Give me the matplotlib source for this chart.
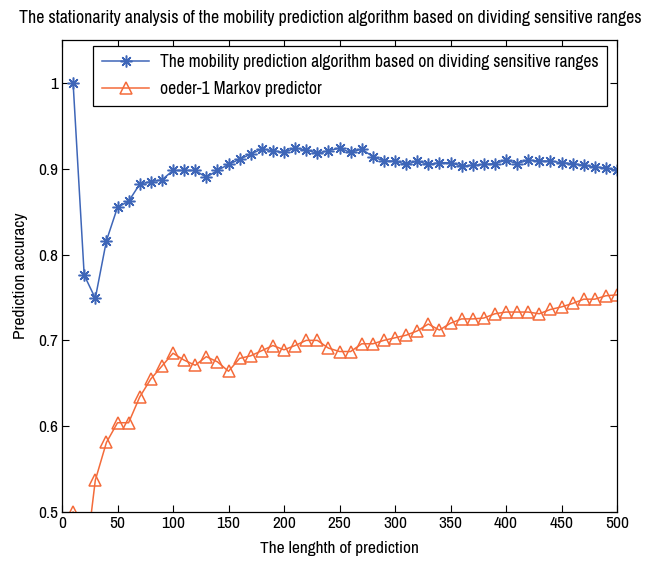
import matplotlib
matplotlib.use("Agg")
import matplotlib.pyplot as plt
from matplotlib import font_manager

narrow = None
for f in font_manager.fontManager.ttflist:
    if 'Narrow' in f.name or 'Condensed' in f.name:
        narrow = f.name
        break
if narrow:
    plt.rcParams['font.family'] = [narrow, 'DejaVu Sans']
else:
    plt.rcParams['font.family'] = ['DejaVu Sans']

x = list(range(10, 501, 10))

sensitive = [1.000, 0.776, 0.749, 0.816, 0.855, 0.862, 0.882, 0.885, 0.887, 0.898,
             0.898, 0.898, 0.890, 0.898, 0.905, 0.911, 0.917, 0.923, 0.921, 0.919,
             0.924, 0.922, 0.918, 0.921, 0.924, 0.919, 0.923, 0.914, 0.909, 0.909,
             0.905, 0.909, 0.905, 0.907, 0.907, 0.903, 0.904, 0.905, 0.906, 0.910,
             0.906, 0.910, 0.909, 0.909, 0.907, 0.906, 0.904, 0.902, 0.901, 0.898]

markov = [0.500, 0.430, 0.537, 0.581, 0.604, 0.604, 0.634, 0.655, 0.670, 0.685,
          0.677, 0.671, 0.681, 0.675, 0.664, 0.679, 0.682, 0.688, 0.694, 0.689,
          0.694, 0.700, 0.700, 0.691, 0.687, 0.687, 0.696, 0.696, 0.700, 0.703,
          0.706, 0.711, 0.719, 0.712, 0.720, 0.725, 0.725, 0.726, 0.731, 0.733,
          0.733, 0.733, 0.731, 0.736, 0.739, 0.743, 0.748, 0.748, 0.752, 0.753]

label_a = "The mobility prediction algorithm based on dividing sensitive ranges"
label_b = "oeder-1 Markov predictor"
title = "The stationarity analysis of the mobility prediction algorithm based on dividing sensitive ranges"
xlabel = "The lenghth of prediction"
ylabel = "Prediction accuracy"
xticks = list(range(0, 501, 50))
yticks = [0.5, 0.6, 0.7, 0.8, 0.9, 1.0]
ytick_labels = ["0.5", "0.6", "0.7", "0.8", "0.9", "1"]

blue = '#3e66b8'
orange = '#f46b3a'

fig = plt.figure(figsize=(6.61, 5.61), dpi=100)
ax = fig.add_axes([62/661, 1-512/561, (617-62)/661, (512-40)/561])

ax.plot(x, sensitive, color=blue, lw=1.1, marker=(8, 2, 0), ms=8.5, mew=1.1,
        mfc=blue, mec=blue, label=label_a)
ax.plot(x, markov, color=orange, lw=1.1, marker='^', ms=8.5, mew=1.1,
        mfc='none', mec=orange, label=label_b)

ax.set_xlim(0, 500)
ax.set_ylim(0.5, 1.05)
ax.set_xticks(xticks)
ax.set_yticks(yticks)
ax.set_yticklabels(ytick_labels)
ax.tick_params(direction='in', top=True, right=True, length=5, labelsize=12.5)
ax.tick_params(axis='x', pad=3)
ax.tick_params(axis='y', pad=3)
for s in ax.spines.values():
    s.set_linewidth(0.9)

ax.set_xlabel(xlabel, fontsize=12.5, labelpad=7)
ax.set_ylabel(ylabel, fontsize=12.5, labelpad=7)
fig.text(0.5, 1-18/561, title, ha='center', va='center', fontsize=12.8)

leg = ax.legend(loc='upper right', bbox_to_anchor=(0.982, 0.988), fontsize=12.6,
                frameon=True, fancybox=False, edgecolor='black', framealpha=1,
                handlelength=2.7, borderpad=0.5, labelspacing=0.6, borderaxespad=0,
                handletextpad=0.6)
leg.get_frame().set_linewidth(0.9)

fig.savefig("out.png", dpi=100)
